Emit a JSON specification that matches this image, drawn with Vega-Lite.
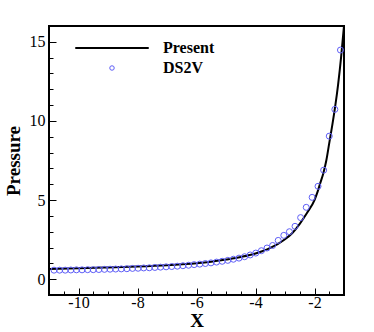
{
  "$schema": "https://vega.github.io/schema/vega-lite/v6.json",
  "width": 295,
  "height": 269,
  "autosize": "none",
  "padding": {"left": 49, "top": 26, "right": 30, "bottom": 37},
  "config": {
    "font": "Liberation Serif",
    "view": {"stroke": "black", "strokeWidth": 2},
    "axis": {"grid": false, "domain": false, "tickColor": "black", "labelColor": "black", "titleColor": "black", "labelFont": "Liberation Serif", "titleFont": "Liberation Serif", "labelFontSize": 16, "titleFontSize": 19, "titleFontWeight": "bold", "tickWidth": 1, "labelOverlap": false, "labelFlush": false}
  },
  "datasets": {
    "present": [
      {"x": -11, "p": 0.65, "series": "Present"},
      {"x": -10, "p": 0.69, "series": "Present"},
      {"x": -9, "p": 0.74, "series": "Present"},
      {"x": -8, "p": 0.8, "series": "Present"},
      {"x": -7, "p": 0.88, "series": "Present"},
      {"x": -6, "p": 1.0, "series": "Present"},
      {"x": -5.5, "p": 1.1, "series": "Present"},
      {"x": -5, "p": 1.24, "series": "Present"},
      {"x": -4.5, "p": 1.4, "series": "Present"},
      {"x": -4, "p": 1.62, "series": "Present"},
      {"x": -3.75, "p": 1.78, "series": "Present"},
      {"x": -3.5, "p": 1.98, "series": "Present"},
      {"x": -3.25, "p": 2.22, "series": "Present"},
      {"x": -3, "p": 2.52, "series": "Present"},
      {"x": -2.75, "p": 2.92, "series": "Present"},
      {"x": -2.5, "p": 3.5, "series": "Present"},
      {"x": -2.25, "p": 4.2, "series": "Present"},
      {"x": -2, "p": 5.0, "series": "Present"},
      {"x": -1.9, "p": 5.5, "series": "Present"},
      {"x": -1.8, "p": 6.1, "series": "Present"},
      {"x": -1.7, "p": 6.7, "series": "Present"},
      {"x": -1.6, "p": 7.5, "series": "Present"},
      {"x": -1.5, "p": 8.6, "series": "Present"},
      {"x": -1.4, "p": 9.7, "series": "Present"},
      {"x": -1.3, "p": 10.9, "series": "Present"},
      {"x": -1.2, "p": 12.3, "series": "Present"},
      {"x": -1.1, "p": 14.0, "series": "Present"},
      {"x": -1.05, "p": 15.0, "series": "Present"},
      {"x": -1.0, "p": 16.0, "series": "Present"}
    ],
    "ds2v": [
      {"x": -10.83, "p": 0.57, "series": "DS2V"},
      {"x": -10.64, "p": 0.57, "series": "DS2V"},
      {"x": -10.45, "p": 0.57, "series": "DS2V"},
      {"x": -10.26, "p": 0.58, "series": "DS2V"},
      {"x": -10.07, "p": 0.59, "series": "DS2V"},
      {"x": -9.88, "p": 0.59, "series": "DS2V"},
      {"x": -9.69, "p": 0.6, "series": "DS2V"},
      {"x": -9.5, "p": 0.6, "series": "DS2V"},
      {"x": -9.31, "p": 0.61, "series": "DS2V"},
      {"x": -9.12, "p": 0.62, "series": "DS2V"},
      {"x": -8.93, "p": 0.63, "series": "DS2V"},
      {"x": -8.74, "p": 0.64, "series": "DS2V"},
      {"x": -8.55, "p": 0.65, "series": "DS2V"},
      {"x": -8.36, "p": 0.66, "series": "DS2V"},
      {"x": -8.17, "p": 0.68, "series": "DS2V"},
      {"x": -7.98, "p": 0.69, "series": "DS2V"},
      {"x": -7.79, "p": 0.71, "series": "DS2V"},
      {"x": -7.6, "p": 0.72, "series": "DS2V"},
      {"x": -7.41, "p": 0.74, "series": "DS2V"},
      {"x": -7.22, "p": 0.76, "series": "DS2V"},
      {"x": -7.03, "p": 0.78, "series": "DS2V"},
      {"x": -6.84, "p": 0.8, "series": "DS2V"},
      {"x": -6.65, "p": 0.82, "series": "DS2V"},
      {"x": -6.46, "p": 0.85, "series": "DS2V"},
      {"x": -6.27, "p": 0.88, "series": "DS2V"},
      {"x": -6.08, "p": 0.92, "series": "DS2V"},
      {"x": -5.89, "p": 0.95, "series": "DS2V"},
      {"x": -5.7, "p": 0.99, "series": "DS2V"},
      {"x": -5.51, "p": 1.03, "series": "DS2V"},
      {"x": -5.32, "p": 1.08, "series": "DS2V"},
      {"x": -5.13, "p": 1.13, "series": "DS2V"},
      {"x": -4.94, "p": 1.19, "series": "DS2V"},
      {"x": -4.75, "p": 1.26, "series": "DS2V"},
      {"x": -4.56, "p": 1.33, "series": "DS2V"},
      {"x": -4.37, "p": 1.42, "series": "DS2V"},
      {"x": -4.18, "p": 1.53, "series": "DS2V"},
      {"x": -3.99, "p": 1.65, "series": "DS2V"},
      {"x": -3.8, "p": 1.8, "series": "DS2V"},
      {"x": -3.61, "p": 1.97, "series": "DS2V"},
      {"x": -3.42, "p": 2.13, "series": "DS2V"},
      {"x": -3.23, "p": 2.45, "series": "DS2V"},
      {"x": -3.04, "p": 2.77, "series": "DS2V"},
      {"x": -2.85, "p": 3.0, "series": "DS2V"},
      {"x": -2.66, "p": 3.34, "series": "DS2V"},
      {"x": -2.47, "p": 3.89, "series": "DS2V"},
      {"x": -2.28, "p": 4.54, "series": "DS2V"},
      {"x": -2.08, "p": 5.17, "series": "DS2V"},
      {"x": -1.88, "p": 5.87, "series": "DS2V"},
      {"x": -1.69, "p": 6.89, "series": "DS2V"},
      {"x": -1.5, "p": 9.04, "series": "DS2V"},
      {"x": -1.31, "p": 10.73, "series": "DS2V"},
      {"x": -1.12, "p": 14.48, "series": "DS2V"}
    ]
  },
  "encoding": {
    "x": {
      "field": "x", "type": "quantitative",
      "scale": {"domain": [-11, -1], "nice": false, "zero": false},
      "axis": {
        "title": "X",
        "values": [-10.5, -10, -9.5, -9, -8.5, -8, -7.5, -7, -6.5, -6, -5.5, -5, -4.5, -4, -3.5, -3, -2.5, -2, -1.5],
        "labelExpr": "datum.value % 2 === 0 ? '' + datum.value : ''",
        "tickSize": {"condition": {"test": "datum.value % 2 === 0", "value": -7}, "value": -4},
        "labelPadding": 6,
        "titlePadding": -2
      }
    },
    "y": {
      "field": "p", "type": "quantitative",
      "scale": {"domain": [-1, 16], "nice": false, "zero": false},
      "axis": {
        "title": "Pressure",
        "values": [0, 1, 2, 3, 4, 5, 6, 7, 8, 9, 10, 11, 12, 13, 14, 15],
        "labelExpr": "datum.value % 5 === 0 ? '' + datum.value : ''",
        "tickSize": {"condition": {"test": "datum.value % 5 === 0", "value": -7}, "value": -4},
        "labelPadding": 11,
        "titlePadding": 6
      }
    },
    "color": {
      "field": "series", "type": "nominal",
      "scale": {"domain": ["Present", "DS2V"], "range": ["black", "#5f5ff7"]},
      "legend": {
        "title": null,
        "orient": "none",
        "legendX": 26,
        "legendY": 14,
        "symbolStrokeWidth": 1.5,
        "labelFontSize": 16,
        "labelFontWeight": "bold",
        "labelFont": "Liberation Serif",
        "labelColor": "black",
        "rowPadding": 4,
        "encode": {
          "symbols": {
            "update": {
              "x": {"value": 37},
              "shape": {"signal": "datum.value === 'Present' ? 'stroke' : 'circle'"},
              "size": {"signal": "datum.value === 'Present' ? 5400 : 20"},
              "strokeWidth": {"signal": "datum.value === 'Present' ? 2 : 1"},
              "fill": {"value": "transparent"}
            }
          },
          "labels": {
            "update": {
              "x": {"value": 88}
            }
          }
        }
      }
    }
  },
  "layer": [
    {
      "data": {"name": "present"},
      "mark": {"type": "line", "interpolate": "monotone", "strokeWidth": 2, "clip": true}
    },
    {
      "data": {"name": "ds2v"},
      "mark": {"type": "point", "shape": "circle", "filled": false, "size": 36, "strokeWidth": 1, "opacity": 1}
    }
  ]
}
